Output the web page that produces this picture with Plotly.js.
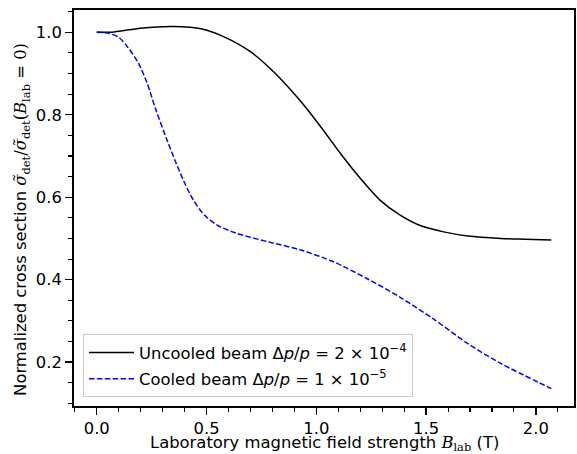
<!DOCTYPE html>
<html>
<head>
<meta charset="utf-8">
<script src="https://cdn.plot.ly/plotly-3.0.1.min.js"></script>
<style>html,body{margin:0;padding:0;background:#fff;}#chart{width:577px;height:454px;}</style>
</head>
<body>
<div id="chart"></div>
<script>
// Uncooled beam (dp/p = 2e-4)
const uncooledB = [0, 0.08, 0.2, 0.35, 0.48, 0.58, 0.7, 0.81, 0.92, 1.02, 1.11, 1.2, 1.29, 1.38, 1.47, 1.58, 1.69, 1.84, 1.95, 2.07];
const uncooledSigma = [1.0, 1.001, 1.010, 1.014, 1.008, 0.989, 0.953, 0.902, 0.838, 0.771, 0.706, 0.646, 0.593, 0.557, 0.532, 0.516, 0.506, 0.500, 0.498, 0.496];
// Cooled beam (dp/p = 1e-5)
const cooledB = [0, 0.05, 0.1, 0.14, 0.19, 0.23, 0.27, 0.32, 0.36, 0.4, 0.44, 0.49, 0.55, 0.64, 0.78, 0.93, 1.08, 1.23, 1.38, 1.53, 1.69, 1.84, 2.07];
const cooledSigma = [1.0, 0.998, 0.988, 0.965, 0.925, 0.876, 0.811, 0.739, 0.685, 0.635, 0.593, 0.557, 0.532, 0.512, 0.492, 0.472, 0.443, 0.403, 0.358, 0.306, 0.245, 0.197, 0.136];
const xTickVals = [0, 0.5, 1.0, 1.5, 2.0];
const xTickText = ['0.0', '0.5', '1.0', '1.5', '2.0'];
const yTickVals = [0.2, 0.4, 0.6, 0.8, 1.0];
const yTickText = ['0.2', '0.4', '0.6', '0.8', '1.0'];
const xTitle = 'Laboratory magnetic field strength <span style="font-family:\'DejaVu Serif\'"><i>B</i><sub>lab</sub></span> (T)';
const yTitle = 'Normalized cross section <span style="font-family:\'DejaVu Serif\'"><i>σ̃</i><sub>det</sub>/<i>σ̃</i><sub>det</sub>(<i>B</i><sub>lab</sub> = 0)</span>';

const traces = [
  {
    x: uncooledB, y: uncooledSigma, type: 'scatter', mode: 'lines',
    line: {color: '#000000', width: 1.5, shape: 'spline', smoothing: 0.8},
    name: 'Uncooled beam Δ<i>p</i>/<i>p</i> = 2 × 10<sup>−4</sup>',
    legendgroup: 'a'
  },
  {
    x: cooledB, y: cooledSigma, type: 'scatter', mode: 'lines',
    line: {color: '#0000ff', width: 1.5, dash: '5.5px,2.4px', shape: 'spline', smoothing: 0.8},
    name: 'Cooled beam Δ<i>p</i>/<i>p</i> = 1 × 10<sup>−5</sup>',
    legendgroup: 'b'
  }
];

const axisCommon = {
  showline: true, linecolor: '#000', linewidth: 1.8, mirror: true,
  ticks: 'outside', ticklen: 7, tickwidth: 1.4, tickcolor: '#000',
  showgrid: false, zeroline: false,
  tickfont: {family: 'DejaVu Sans', size: 16.4, color: '#000'}
};

const layout = {
  width: 577, height: 454,
  margin: {l: 74, r: 3, t: 10, b: 48},
  paper_bgcolor: '#fff', plot_bgcolor: '#fff',
  font: {family: 'DejaVu Sans', color: '#000'},
  showlegend: true,
  legend: {
    x: 0.018, y: 0.022, xanchor: 'left', yanchor: 'bottom',
    bgcolor: 'rgba(255,255,255,0.8)', bordercolor: '#cccccc', borderwidth: 1,
    font: {family: 'DejaVu Sans', size: 16.4, color: '#000'},
    traceorder: 'grouped', tracegroupgap: 2, itemwidth: 45
  },
  xaxis: Object.assign({}, axisCommon, {
    range: [-0.1035, 2.1735],
    tickvals: xTickVals, ticktext: xTickText,
    minor: {dtick: 0.1, tick0: 0, ticks: 'outside', ticklen: 4, tickwidth: 1.1, tickcolor: '#000', showgrid: false}
  }),
  yaxis: Object.assign({}, axisCommon, {
    range: [0.0937, 1.0541],
    tickvals: yTickVals, ticktext: yTickText,
    minor: {dtick: 0.05, tick0: 0, ticks: 'outside', ticklen: 4, tickwidth: 1.1, tickcolor: '#000', showgrid: false}
  }),
  annotations: [
    {text: xTitle, xref: 'paper', yref: 'paper', x: 0.5, y: -0.1195, xanchor: 'center', yanchor: 'bottom', yshift: -2,
     showarrow: false, borderpad: 0, font: {family: 'DejaVu Sans', size: 16.4, color: '#000'}},
    {text: yTitle, xref: 'paper', yref: 'paper', x: -0.104, y: 0.47, xanchor: 'center', yanchor: 'middle',
     textangle: -90, showarrow: false, font: {family: 'DejaVu Sans', size: 16.4, color: '#000'}}
  ]
};

Plotly.newPlot('chart', traces, layout, {displayModeBar: false, staticPlot: true});
</script>
</body>
</html>
